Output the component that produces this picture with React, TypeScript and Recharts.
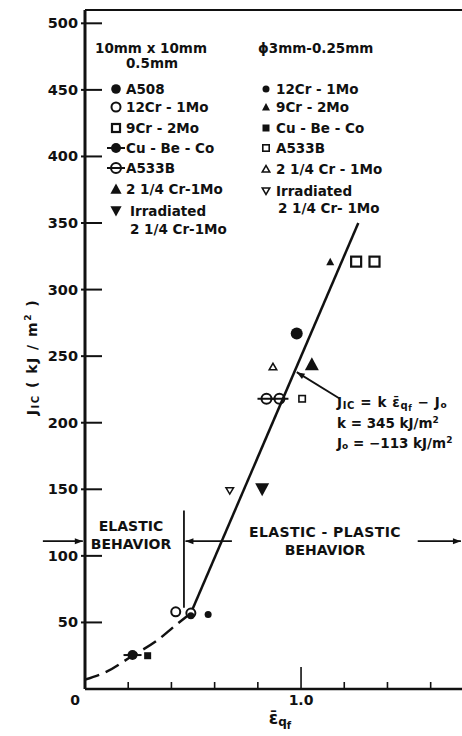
import React from 'react';
import { ComposedChart, XAxis, YAxis, Scatter, Line, ReferenceLine } from 'recharts';

const FONT = '"DejaVu Sans", sans-serif';
const INK = '#111';

const yTicks = [50, 100, 150, 200, 250, 300, 350, 400, 450, 500];
const xTicks = [0, 0.2, 0.4, 0.6, 0.8, 1.0, 1.2, 1.4, 1.6];

// 10mm x 10mm x 0.5mm specimens (large symbols)
const a508L = [{ x: 0.98, y: 267 }];
const cr12L = [{ x: 0.42, y: 58 }, { x: 0.49, y: 57 }];
const cr9L = [{ x: 1.255, y: 321 }, { x: 1.34, y: 321 }];
const cuL = [{ x: 0.22, y: 25.5 }];
const a533L = [{ x: 0.84, y: 218 }, { x: 0.9, y: 218 }];
const cr214L = [{ x: 1.05, y: 244 }];
const irrL = [{ x: 0.82, y: 150 }];

// phi 3mm x 0.25mm specimens (small symbols)
const cr12S = [{ x: 0.49, y: 55 }, { x: 0.57, y: 56 }];
const cr9S = [{ x: 1.135, y: 321 }];
const cuS = [{ x: 0.29, y: 25 }];
const a533S = [{ x: 1.005, y: 218 }];
const cr214S = [{ x: 0.87, y: 242 }];
const irrS = [{ x: 0.67, y: 149 }];

// fitted curves
const fitDashed = [{ x: 0, y: 7 }, { x: 0.1, y: 13 }, { x: 0.22, y: 25 }, { x: 0.33, y: 36 }, { x: 0.42, y: 48 }, { x: 0.49, y: 57 }];
const fitSolid = [{ x: 0.49, y: 57 }, { x: 1.265, y: 350 }];

const largeSeries = [
  { name: ['A508'], kind: 'dotL', data: a508L },
  { name: ['12Cr - 1Mo'], kind: 'ringL', data: cr12L },
  { name: ['9Cr - 2Mo'], kind: 'boxL', data: cr9L },
  { name: ['Cu - Be - Co'], kind: 'dotBarL', data: cuL },
  { name: ['A533B'], kind: 'ringBarL', data: a533L },
  { name: ['2 1/4 Cr-1Mo'], kind: 'triL', data: cr214L },
  { name: ['Irradiated', '2 1/4 Cr-1Mo'], kind: 'invTriL', data: irrL },
];
const smallSeries = [
  { name: ['12Cr - 1Mo'], kind: 'dotS', data: cr12S },
  { name: ['9Cr - 2Mo'], kind: 'triS', data: cr9S },
  { name: ['Cu - Be - Co'], kind: 'boxS', data: cuS },
  { name: ['A533B'], kind: 'openBoxS', data: a533S },
  { name: ['2 1/4 Cr - 1Mo'], kind: 'openTriS', data: cr214S },
  { name: ['Irradiated', '2 1/4 Cr- 1Mo'], kind: 'openInvTriS', data: irrS },
];

const mark = (kind: string, cx: number, cy: number, k = 1) => {
  const s = { stroke: INK, strokeWidth: 2 };
  switch (kind) {
    case 'dotL': return <circle cx={cx} cy={cy} r={6 * k} fill={INK} />;
    case 'ringL': return <circle cx={cx} cy={cy} r={4.5} fill="#fff" {...s} />;
    case 'boxL': return <rect x={cx - 5 * k} y={cy - 5 * k} width={10 * k} height={10 * k} fill="#fff" stroke={INK} strokeWidth={2.2} />;
    case 'dotBarL':
      return (
        <g>
          <line x1={cx - 9} x2={cx + 9} y1={cy} y2={cy} {...s} />
          <circle cx={cx} cy={cy} r={5} fill={INK} />
        </g>
      );
    case 'ringBarL':
      return (
        <g>
          <circle cx={cx} cy={cy} r={5} fill="none" {...s} />
          <line x1={cx - 9} x2={cx + 9} y1={cy} y2={cy} {...s} />
        </g>
      );
    case 'triL': return <polygon points={`${cx - 7 * k},${cy + 6 * k} ${cx + 7 * k},${cy + 6 * k} ${cx},${cy - 7 * k}`} fill={INK} />;
    case 'invTriL': return <polygon points={`${cx - 7 * k},${cy - 6 * k} ${cx + 7 * k},${cy - 6 * k} ${cx},${cy + 7 * k}`} fill={INK} />;
    case 'dotS': return <circle cx={cx} cy={cy} r={3.5} fill={INK} />;
    case 'triS': return <polygon points={`${cx - 4},${cy + 3.5} ${cx + 4},${cy + 3.5} ${cx},${cy - 4}`} fill={INK} />;
    case 'boxS': return <rect x={cx - 3.5} y={cy - 3.5} width={7} height={7} fill={INK} />;
    case 'openBoxS': return <rect x={cx - 3.2} y={cy - 3.2} width={6.4} height={6.4} fill="#fff" stroke={INK} strokeWidth={1.6} />;
    case 'openTriS': return <polygon points={`${cx - 3.8},${cy + 3} ${cx + 3.8},${cy + 3} ${cx},${cy - 3.5}`} fill="#fff" stroke={INK} strokeWidth={1.5} />;
    case 'openInvTriS': return <polygon points={`${cx - 3.8},${cy - 3} ${cx + 3.8},${cy - 3} ${cx},${cy + 3.5}`} fill="#fff" stroke={INK} strokeWidth={1.5} />;
    default: return <g />;
  }
};

const arrowShape = (head: boolean) => (p: any) => {
  const { x1, y1, x2, y2 } = p;
  const a = Math.atan2(y2 - y1, x2 - x1);
  const L = 8, W = 3;
  const bx = x2 - L * Math.cos(a), by = y2 - L * Math.sin(a);
  const nx = -Math.sin(a) * W, ny = Math.cos(a) * W;
  return (
    <g>
      <line x1={x1} y1={y1} x2={x2} y2={y2} stroke={INK} strokeWidth={1.8} />
      {head && <polygon points={`${x2},${y2} ${bx + nx},${by + ny} ${bx - nx},${by - ny}`} fill={INK} />}
    </g>
  );
};

const YTick = (p: any) => (
  <g>
    <line x1={p.x - 4} x2={p.x + 17} y1={p.y} y2={p.y} stroke={INK} strokeWidth={2} />
    <text x={p.x - 7} y={p.y + 5} textAnchor="end" fontFamily={FONT} fontWeight="bold" fontSize={14.5} fill={INK}>
      {p.payload.value}
    </text>
  </g>
);

const XTick = (p: any) => {
  const v = p.payload.value;
  const len = v === 1 ? 22 : 7;
  return (
    <g>
      {v !== 0 && <line x1={p.x} x2={p.x} y1={p.y} y2={p.y - len} stroke={INK} strokeWidth={1.6} />}
      {v === 0 && <text x={p.x - 10} y={p.y + 16} textAnchor="middle" fontFamily={FONT} fontWeight="bold" fontSize={14} fill={INK}>0</text>}
      {v === 1 && <text x={p.x} y={p.y + 16} textAnchor="middle" fontFamily={FONT} fontWeight="bold" fontSize={14} fill={INK}>1.0</text>}
    </g>
  );
};

const T = (props: any) => <text fontFamily={FONT} fontWeight="bold" fontSize={13.5} fill={INK} {...props} />;

const leftRows = [89, 107, 128, 148, 168, 189, 211];
const rightRows = [89, 107, 128, 148, 169, 191];

export default function App() {
  return (
    <div style={{ position: 'absolute', left: 0, top: 0, width: 462, height: 736, background: '#fff' }}>
      <ComposedChart width={462} height={736} margin={{ top: 10, right: 0, bottom: 0, left: 0 }}>
        <XAxis type="number" dataKey="x" domain={[0, 1.745]} allowDataOverflow ticks={xTicks} interval={0}
          tickSize={0} tickMargin={0} tickLine={false} tick={XTick} height={47}
          axisLine={{ stroke: INK, strokeWidth: 2.5 }} />
        <YAxis type="number" dataKey="y" domain={[0, 510]} allowDataOverflow ticks={yTicks} interval={0}
          tickSize={0} tickMargin={0} tickLine={false} tick={YTick} width={85}
          axisLine={{ stroke: INK, strokeWidth: 3 }} />
        <ReferenceLine y={510} stroke={INK} strokeWidth={2} />
        <Line data={fitDashed} dataKey="y" type="monotone" stroke={INK} strokeWidth={2.5} strokeDasharray="15 7" dot={false} isAnimationActive={false} />
        <Line data={fitSolid} dataKey="y" type="linear" stroke={INK} strokeWidth={2.5} dot={false} isAnimationActive={false} />
        <ReferenceLine segment={[{ x: 0.458, y: 134 }, { x: 0.458, y: 61 }]} ifOverflow="visible" shape={arrowShape(false)} />
        <ReferenceLine segment={[{ x: -0.195, y: 111 }, { x: -0.01, y: 111 }]} ifOverflow="visible" shape={arrowShape(true)} />
        <ReferenceLine segment={[{ x: 0.68, y: 111 }, { x: 0.465, y: 111 }]} ifOverflow="visible" shape={arrowShape(true)} />
        <ReferenceLine segment={[{ x: 1.54, y: 111 }, { x: 1.74, y: 111 }]} ifOverflow="visible" shape={arrowShape(true)} />
        <ReferenceLine segment={[{ x: 1.18, y: 218 }, { x: 0.98, y: 238 }]} ifOverflow="visible" shape={arrowShape(true)} />
        {largeSeries.map((s) => (
          <Scatter key={'L' + s.kind} data={s.data} isAnimationActive={false} shape={(p: any) => mark(s.kind, p.cx, p.cy)} />
        ))}
        {smallSeries.map((s) => (
          <Scatter key={'S' + s.kind} data={s.data} isAnimationActive={false} shape={(p: any) => mark(s.kind, p.cx, p.cy)} />
        ))}
      </ComposedChart>
      <svg width={462} height={736} style={{ position: 'absolute', left: 0, top: 0, pointerEvents: 'none' }}>
        {/* legend headers */}
        <T x={151} y={53} textAnchor="middle">10mm x 10mm</T>
        <T x={152} y={68} textAnchor="middle">0.5mm</T>
        <T x={258} y={53}>ϕ3mm-0.25mm</T>
        {largeSeries.map((s, i) => (
          <g key={'lg' + i}>
            {mark(s.kind, 116, leftRows[i], 0.8)}
            {s.name.map((n, j) => (
              <T key={j} x={i === 6 ? 130 : 126} y={leftRows[i] + 5 + j * 18}>{n}</T>
            ))}
          </g>
        ))}
        {smallSeries.map((s, i) => (
          <g key={'sg' + i}>
            {mark(s.kind, 266, rightRows[i])}
            {s.name.map((n, j) => (
              <T key={j} x={j === 0 ? 276 : 278} y={rightRows[i] + 5 + j * 17}>{n}</T>
            ))}
          </g>
        ))}
        {/* fit equation */}
        <T x={337} y={407} letterSpacing={0.6}>J<tspan fontSize={10} dy={2}>IC</tspan><tspan dy={-2}> = k ε̄</tspan><tspan fontSize={10} dy={2}>q</tspan><tspan fontSize={8} dy={2}>f</tspan><tspan dy={-4}> − J</tspan><tspan fontSize={9} dy={1}>o</tspan></T>
        <T x={337} y={428}>k = 345 kJ/m<tspan fontSize={9} dy={-5}>2</tspan></T>
        <T x={337} y={448}>J<tspan fontSize={9} dy={1}>o</tspan><tspan dy={-1}> = −113 kJ/m</tspan><tspan fontSize={9} dy={-5}>2</tspan></T>
        {/* behaviour regions */}
        <T x={131} y={531} textAnchor="middle" fontSize={14}>ELASTIC</T>
        <T x={131} y={549} textAnchor="middle" fontSize={14}>BEHAVIOR</T>
        <T x={325} y={537} textAnchor="middle" fontSize={14} letterSpacing={0.4}>ELASTIC - PLASTIC</T>
        <T x={325} y={555} textAnchor="middle" fontSize={14}>BEHAVIOR</T>
        {/* axis titles */}
        <T x={280} y={724} textAnchor="middle" fontSize={17}>ε̄<tspan fontSize={12} dy={2}>q</tspan><tspan fontSize={10} dy={3}>f</tspan></T>
        <g transform="translate(37,357) rotate(-90)">
          <T x={0} y={0} textAnchor="middle" fontSize={14} letterSpacing={1.5}>J<tspan fontSize={10} dy={2}>IC</tspan><tspan dy={-2}> ( kJ / m</tspan><tspan fontSize={9} dy={-6}>2</tspan><tspan dy={6}> )</tspan></T>
        </g>
      </svg>
    </div>
  );
}
